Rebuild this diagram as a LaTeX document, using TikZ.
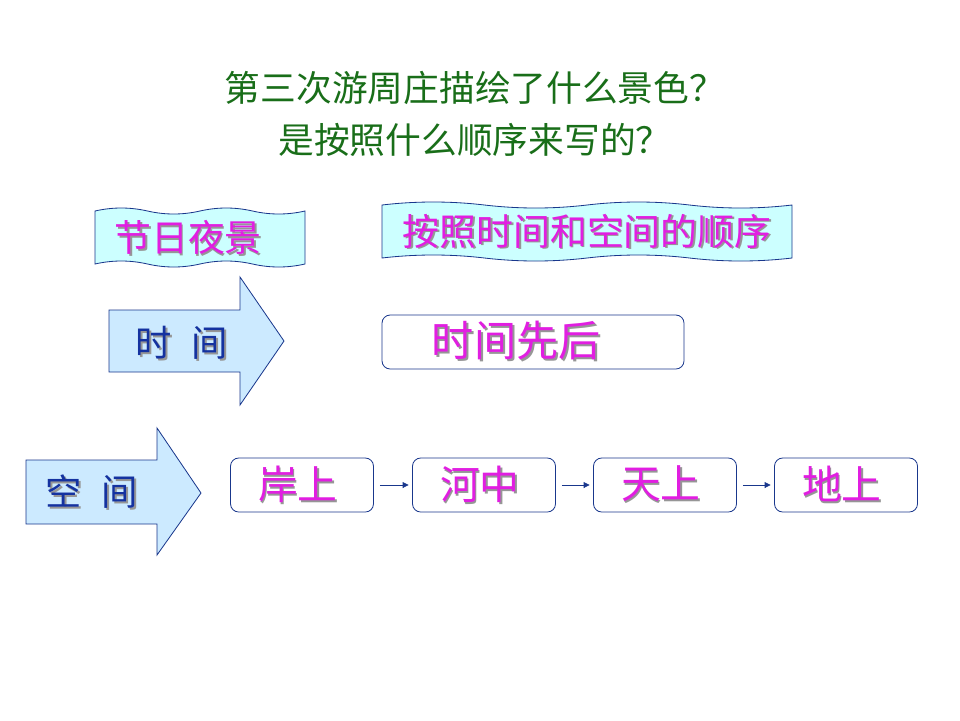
\documentclass[tikz,border=0pt]{standalone}
\usepackage{fontspec}
\setmainfont{Noto Sans CJK SC}
\usepackage{xcolor}
\usetikzlibrary{arrows.meta}

\definecolor{titlegreen}{RGB}{25,110,25}
\definecolor{edgeblue}{RGB}{25,55,140}
\definecolor{wordblue}{RGB}{20,50,160}
\definecolor{wordpink}{RGB}{225,30,225}
\definecolor{shadowgray}{RGB}{150,150,150}
\definecolor{bannercyan}{RGB}{204,255,255}
\definecolor{arrowblue}{RGB}{204,234,255}

% text with a soft grey shadow
\newcommand\shadowed[2]{\makebox[0pt][l]{\hspace{1.6pt}\raisebox{-1.6pt}{\textcolor{shadowgray}{#2}}}\textcolor{#1}{#2}}

\tikzset{
    banner/.style={draw=edgeblue, fill=bannercyan, line width=0.7pt},
    bigarrow/.style={draw=edgeblue, fill=arrowblue, line width=0.7pt},
    stagebox/.style={draw=edgeblue, rounded corners=7pt, line width=0.7pt,
        minimum width=4.29cm, minimum height=1.62cm, inner sep=0pt,
        font=\fontsize{34}{40}\selectfont},
    flow/.style={draw=edgeblue, line width=0.6pt, -{Triangle[length=5pt,width=5pt]},
        shorten <=5pt, shorten >=3pt}
}

\begin{document}
\begin{tikzpicture}[x=0.03cm, y=-0.03cm]
    \useasboundingbox (0,0) rectangle (960,720);

    % Title
    \node[text=titlegreen, font=\fontsize{30.5}{36}\selectfont] (q1) at (475,88) {第三次游周庄描绘了什么景色？};
    \node[text=titlegreen, font=\fontsize{30.5}{36}\selectfont] (q2) at (475,140) {是按照什么顺序来写的？};

    % Banners
    \draw[banner] (95,211) .. controls (112.5,207) and (130,207) .. (147.5,211)
        .. controls (165,215) and (182.5,215) .. (200,211)
        .. controls (217.5,207) and (235,207) .. (252.5,211)
        .. controls (270,215) and (287.5,215) .. (305,211) -- (305,264)
        .. controls (287.5,268) and (270,268) .. (252.5,264)
        .. controls (235,260) and (217.5,260) .. (200,264)
        .. controls (182.5,268) and (165,268) .. (147.5,264)
        .. controls (130,260) and (112.5,260) .. (95,264) -- cycle;
    \node[font=\fontsize{31.5}{36}\selectfont] (scene) at (188,238) {\shadowed{wordpink}{节日夜景}};

    \draw[banner] (382,205) .. controls (416.2,201) and (450.3,201) .. (484.5,205)
        .. controls (518.7,209) and (552.8,209) .. (587,205)
        .. controls (621.2,201) and (655.3,201) .. (689.5,205)
        .. controls (723.7,209) and (757.8,209) .. (792,205) -- (792,258)
        .. controls (757.8,262) and (723.7,262) .. (689.5,258)
        .. controls (655.3,254) and (621.2,254) .. (587,258)
        .. controls (552.8,262) and (518.7,262) .. (484.5,258)
        .. controls (450.3,254) and (416.2,254) .. (382,258) -- cycle;
    \node[font=\fontsize{31.5}{36}\selectfont] (order) at (587,232) {\shadowed{wordpink}{按照时间和空间的顺序}};

    % Time arrow
    \draw[bigarrow] (109,310) -- (240,310) -- (240,277) -- (284,341) -- (240,405) -- (240,372) -- (109,372) -- cycle;
    \node[font=\fontsize{31}{36}\selectfont] (time) at (182,344) {\shadowed{wordblue}{时\hspace{0.55em}间}};

    \node[stagebox, minimum width=9.06cm, font=\fontsize{36}{42}\selectfont] (seq) at (533,342) {\shadowed{wordpink}{时间先后}\kern1cm};

    % Space arrow
    \draw[bigarrow] (26,460) -- (157,460) -- (157,428) -- (201,493) -- (157,555) -- (157,524) -- (26,524) -- cycle;
    \node[font=\fontsize{31}{36}\selectfont] (space) at (92,493) {\shadowed{wordblue}{空\hspace{0.55em}间}};

    \node[stagebox] (bank) at (302,485) {\shadowed{wordpink}{岸上}\kern0.25cm};
    \node[stagebox] (river) at (484,485) {\shadowed{wordpink}{河中}\kern0.25cm};
    \node[stagebox] (sky) at (665,485) {\shadowed{wordpink}{天上}\kern0.25cm};
    \node[stagebox] (ground) at (846,485) {\shadowed{wordpink}{地上}\kern0.25cm};

    \draw[flow] (bank) -- (river);
    \draw[flow] (river) -- (sky);
    \draw[flow] (sky) -- (ground);
\end{tikzpicture}
\end{document}
